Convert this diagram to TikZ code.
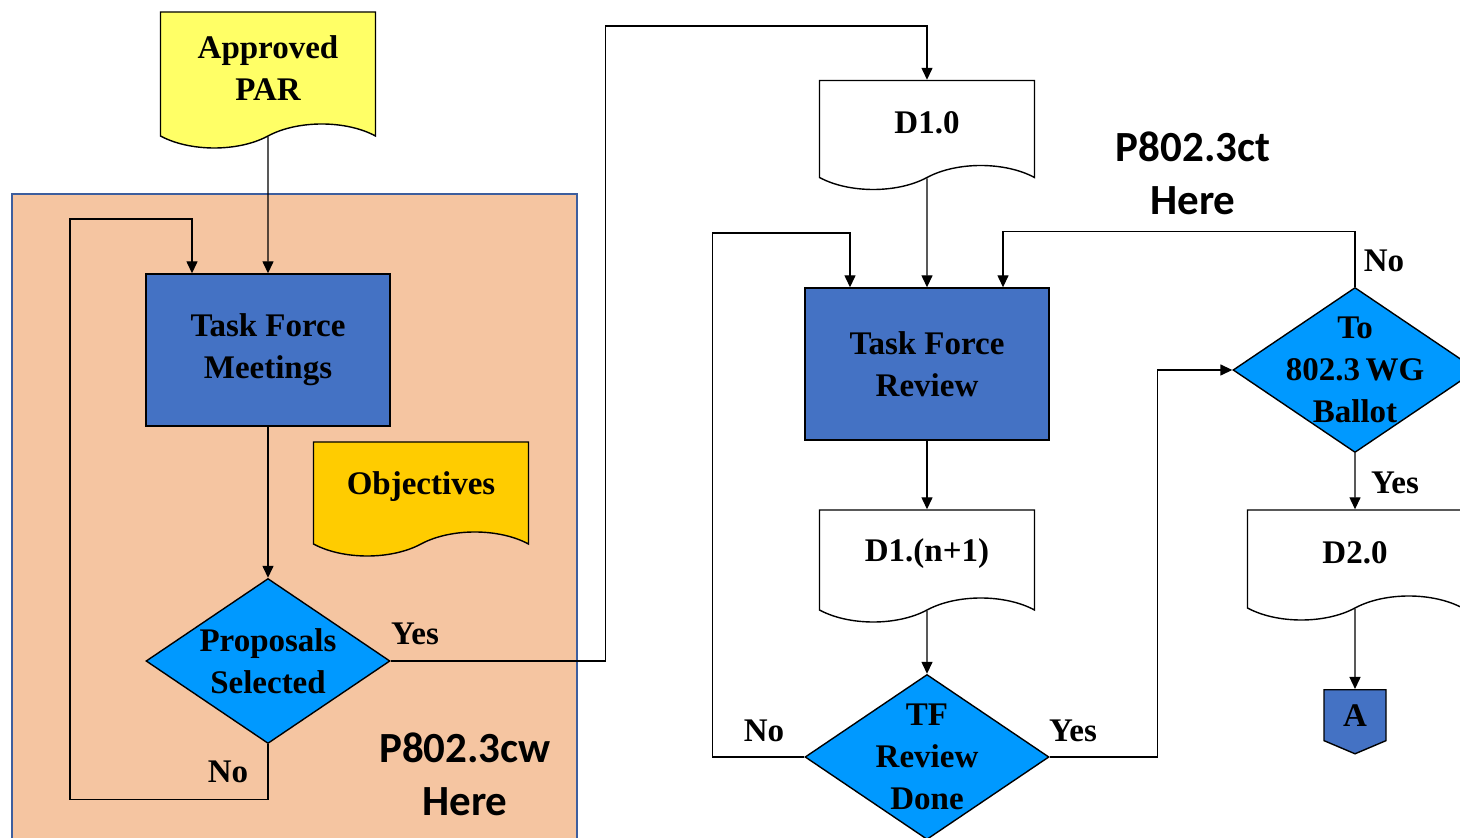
\documentclass[tikz,border=0pt]{standalone}
\usepackage{fontspec}
\setmainfont{Liberation Serif}
\newfontfamily\notefont{Carlito}
\usetikzlibrary{shapes.geometric,shapes.symbols,arrows.meta}

\definecolor{parYellow}{HTML}{FFFF66}
\definecolor{objGold}{HTML}{FFCC00}
\definecolor{taskBlue}{HTML}{4472C4}
\definecolor{askBlue}{HTML}{0099FF}
\definecolor{panelPeach}{HTML}{F5C5A1}
\definecolor{panelEdge}{HTML}{3D5E9E}

\begin{document}
\begin{tikzpicture}[x=0.5pt,y=-0.5pt,
every node/.style={font=\bfseries\fontsize{16.5}{21}\selectfont, align=center},
process/.style={rectangle, draw=black, fill=taskBlue, line width=0.7pt,
  minimum width=122pt, minimum height=76pt},
document/.style={tape, tape bend top=none, tape bend bottom=in and out,
  tape bend height=12pt, draw=black, line width=0.7pt, minimum width=107.5pt},
decision/.style={diamond, draw=black, fill=askBlue, line width=0.7pt,
  inner sep=0pt, minimum width=122pt, minimum height=82.5pt},
offpage/.style={signal, signal to=south, signal pointer angle=134,
  draw=black, fill=taskBlue, line width=0.7pt, inner sep=0pt,
  minimum width=31pt, minimum height=28pt},
flow/.style={draw=black, line width=0.7pt, -{Triangle[length=6pt,width=5.5pt]}},
note/.style={font=\notefont\bfseries\fontsize{21.5}{26.5}\selectfont}
]
\clip (0,0) rectangle (1460,838);

% P802.3cw area
\draw [panelEdge, fill=panelPeach, line width=1pt] (12,194) rectangle (577,870);

\node (par) [document, fill=parYellow, minimum height=68pt] at (268,68) {Approved\\PAR};

\node (tfm) [process] at (268,350) {Task Force\\Meetings};

\node (obj) [document, fill=objGold, minimum height=57pt] at (421,487) {Objectives};

\node (sel) [decision, label={center:{Proposals\\Selected}}] at (268,661) {};

\node (cw) [note] at (465,774) {P802.3cw\\Here};

% P802.3ct side
\node (d10) [document, fill=white, minimum height=54.5pt] at (927,123) {D1.0};

\node (ct) [note] at (1193,173) {P802.3ct\\Here};

\node (tfr) [process] at (927,364) {Task Force\\Review};

\node (d1n) [document, fill=white, minimum height=56pt] at (927,554) {D1.(n+1)};

\node (tfrd) [decision, label={center:{TF\\Review\\Done}}] at (927,757) {};

\node (ballot) [decision, label={center:{To\\802.3\,WG\\Ballot}}] at (1355,370) {};

\node (d20) [document, fill=white, minimum height=55pt] at (1355,553) {D2.0};

\node (pageA) [offpage, anchor=north] at (1355,689) {A};

% labels on the branches
\node (selyes) at (415,634) {Yes};
\node (selno) at (228,772) {No};
\node (tfrdno) at (764,731) {No};
\node (tfrdyes) at (1073,731) {Yes};
\node (balno) at (1384,261) {No};
\node (balyes) at (1395,483) {Yes};

\draw [flow] (par) -- (tfm);
\draw [flow] (tfm) -- (sel);
\draw [flow] (sel.south) -- ++(0,55) -| ++(-198,-580) -| ([xshift=-38pt]tfm.north);
\draw [flow] (sel.east) -| ++(215,-635) -| (d10.north);

\draw [flow] (d10) -- (tfr);
\draw [flow] (tfr) -- (d1n);
\draw [flow] (d1n) -- (tfrd);
\draw [flow] (tfrd.west) -| ++(-92,-524) -| ([xshift=-38.5pt]tfr.north);
\draw [flow] (tfrd.east) -- ++(108,0) |- (ballot.west);
\draw [flow] (ballot.north) -- ++(0,-55) -| ([xshift=38pt]tfr.north);
\draw [flow] (ballot) -- (d20);
\draw [flow] (d20) -- (pageA);
\end{tikzpicture}
\end{document}
